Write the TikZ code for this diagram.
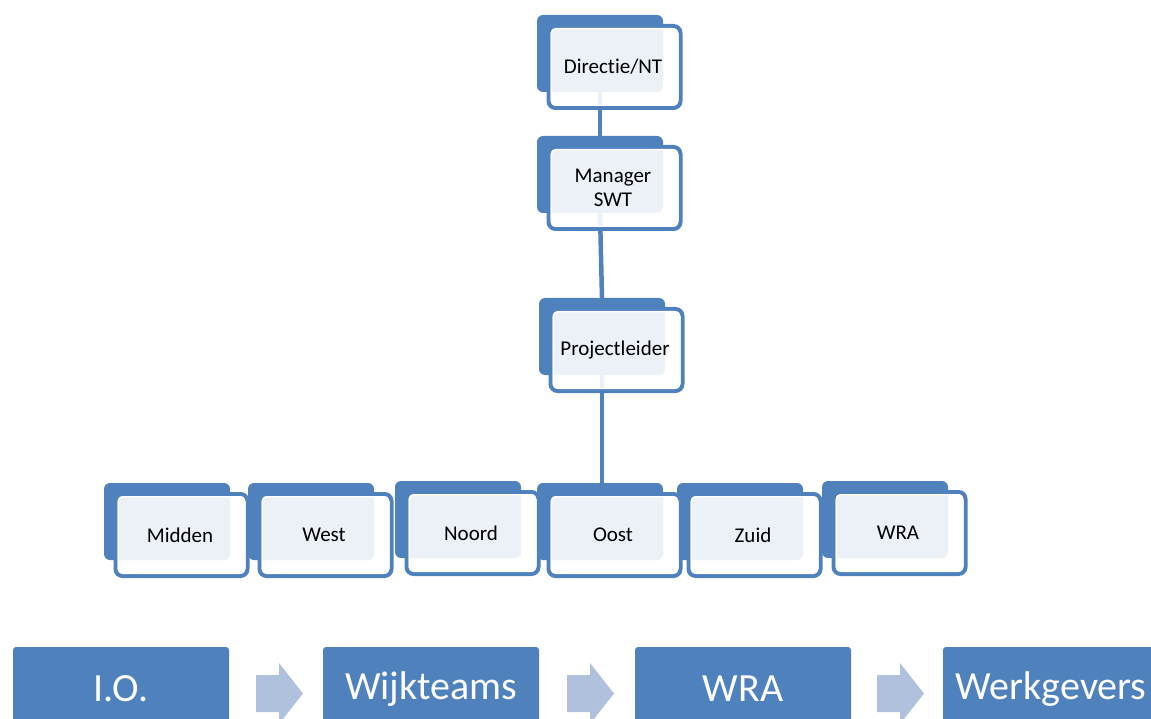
\documentclass[tikz,border=0pt]{standalone}
\usepackage{fontspec}
\setmainfont{Carlito}[Ligatures={NoCommon,NoDiscretionary,NoRare}]
\usetikzlibrary{calc}
\definecolor{obl}{HTML}{4F81BD}
\definecolor{arc}{HTML}{B0C1DE}
\tikzset{
  x=1pt,y=-1pt,
  backbox/.style={fill=obl,rounded corners=6pt,minimum width=126pt,minimum height=77pt,inner sep=0pt,outer sep=0pt,draw=none},
  frontbox/.style={rounded corners=7pt,minimum width=132pt,minimum height=82pt,inner sep=0pt,outer sep=0pt,
     fill=white,fill opacity=0.89,draw=obl,draw opacity=1,line width=4pt},
  innerline/.style={draw=white,line width=1.4pt,rounded corners=5pt},
  orgtext/.style={font=\fontsize{21}{24}\selectfont,align=center},
  link/.style={draw=obl,line width=4.5pt},
  procbox/.style={fill=obl,rounded corners=3pt,minimum width=216pt,minimum height=84pt,inner sep=0pt,text=white,font=\fontsize{40}{44}\selectfont},
  procarrow/.style={fill=arc,draw=none}
}
\newcommand\orgback[3]{\node[backbox] (#1b) at (#2+63,#3+38.5) {};}
\newcommand\orgfront[4]{%
  \node[frontbox] (#1) at (#2+77.5,#3+52) {};
  \draw[innerline] ([xshift=2.7pt,yshift=-2.7pt]#1.north west) rectangle ([xshift=-2.7pt,yshift=2.7pt]#1.south east);
  \node[orgtext] (#1t) at ([xshift=-1.5pt]#1.center) {#4};}
\newcommand\procarr[2]{%
  \path ($(#1.east)!0.5!(#2.west)$) ++(3.5,4.5) coordinate (m);
  \fill[procarrow] ($(m)+(-23.5,-18.5)$) -- ++(23,0) -- ++(0,-12) -- ++(24,30.5) -- ++(-24,30.5) -- ++(0,-12) -- ++(-23,0) -- cycle;}
\begin{document}
\begin{tikzpicture}
\useasboundingbox (0,0) rectangle (1151,719);
\clip (0,0) rectangle (1151,719);
% back boxes
\orgback{dir}{537}{15}
\orgback{man}{537}{136}
\orgback{proj}{539}{298}
\orgback{mid}{104}{483}
\orgback{west}{248}{483}
\orgback{noord}{395}{481}
\orgback{oost}{537}{483}
\orgback{zuid}{677}{483}
\orgback{wra}{822}{481}
% connectors
\draw[link] (dirb.south) -- (manb.north);
\draw[link] (manb.south) -- (projb.north);
\draw[link] (projb.south) -- (projb.south |- oostb.north);
% front boxes
\orgfront{dir}{537}{15}{Directie/NT}
\orgfront{man}{537}{136}{Manager\\SWT}
\orgfront{proj}{539}{298}{Projectleider}
\orgfront{mid}{104}{483}{Midden}
\orgfront{west}{248}{483}{West}
\orgfront{noord}{395}{481}{Noord}
\orgfront{oost}{537}{483}{Oost}
\orgfront{zuid}{677}{483}{Zuid}
\orgfront{wra}{822}{481}{WRA}
% process row
\node[procbox] (io) at (121,689) {I.O.};
\node[procbox] (wijk) at (431,689) {Wijkteams};
\node[procbox] (wra2) at (743,689) {WRA};
\node[procbox] (werk) at (1051,689) {Werkgevers};
\procarr{io}{wijk}
\procarr{wijk}{wra2}
\procarr{wra2}{werk}
\end{tikzpicture}
\end{document}
